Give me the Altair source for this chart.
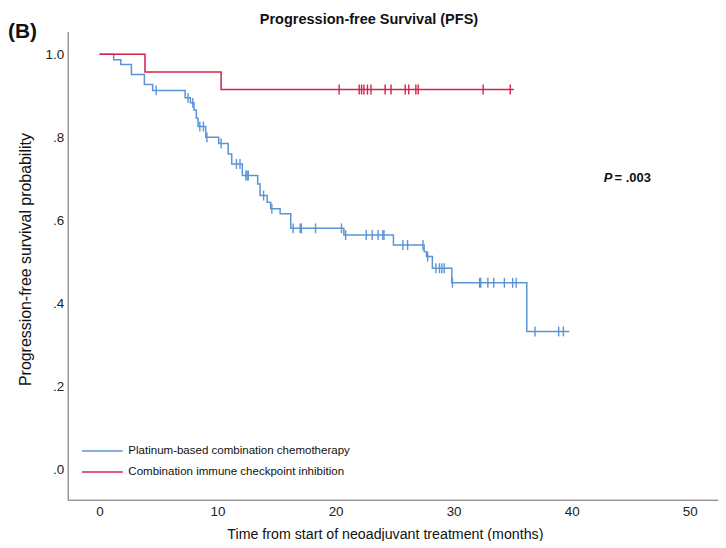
import altair as alt
import pandas as pd
import numpy as np

# ---- data ----
groups = ["Platinum-based combination chemotherapy", "Combination immune checkpoint inhibition"]
colors = ["#5b94d6", "#d3214b"]

blue_times = [0, 1.2, 1.8, 2.7, 3.8, 4.5, 7.25, 7.7, 8.0, 8.2, 8.35, 9.0, 10.1, 10.9, 11.2, 12.1,
              13.4, 13.6, 14.2, 14.5, 15.3, 16.2, 20.7, 24.9, 27.5, 27.7, 28.2, 29.85, 36.2, 39.8]
blue_surv = [1.0, 0.987, 0.975, 0.951, 0.927, 0.913, 0.895, 0.883, 0.866, 0.846, 0.826, 0.800, 0.785,
             0.760, 0.736, 0.708, 0.688, 0.660, 0.644, 0.628, 0.616, 0.581, 0.565, 0.541, 0.525, 0.513,
             0.485, 0.450, 0.333, 0.333]
blue_censor = [4.8, 7.5, 7.9, 8.5, 8.8, 9.1, 10.3, 11.6, 11.9, 12.4, 12.5, 12.6, 13.9, 14.6, 16.4,
               17.0, 17.1, 18.3, 20.5, 20.85, 22.6, 23.1, 23.6, 24.0, 24.1, 25.7, 26.1, 27.4, 27.8,
               28.5, 28.8, 29.0, 29.2, 29.9, 32.2, 32.3, 32.9, 33.4, 34.3, 35.0, 35.3, 36.9, 38.9, 39.3]

red_times = [0, 3.85, 10.3, 35.1]
red_surv = [1.0, 0.957, 0.915, 0.915]
red_censor = [20.3, 22.0, 22.2, 22.4, 22.7, 23.0, 24.2, 24.7, 25.9, 26.2, 26.8, 27.0, 32.5, 34.8]

x_ticks = [0, 10, 20, 30, 40, 50]
y_ticks = [0.0, 0.2, 0.4, 0.6, 0.8, 1.0]


def step_value(times, surv, t):
    i = np.searchsorted(np.array(times), t, side="right") - 1
    return surv[max(i, 0)]


lines = pd.concat([
    pd.DataFrame({"time": blue_times, "surv": blue_surv, "group": groups[0]}),
    pd.DataFrame({"time": red_times, "surv": red_surv, "group": groups[1]}),
], ignore_index=True)

cens = pd.concat([
    pd.DataFrame({"time": blue_censor,
                  "surv": [step_value(blue_times, blue_surv, t) for t in blue_censor],
                  "group": groups[0]}),
    pd.DataFrame({"time": red_censor,
                  "surv": [step_value(red_times, red_surv, t) for t in red_censor],
                  "group": groups[1]}),
], ignore_index=True)

FONT = "Liberation Sans"

xscale = alt.Scale(domain=[-2.7, 52.4], nice=False, zero=False)
yscale = alt.Scale(domain=[-0.072, 1.055], nice=False, zero=False)

xenc = alt.X("time:Q", scale=xscale,
             axis=alt.Axis(values=x_ticks, title="Time from start of neoadjuvant treatment (months)",
                           grid=False, ticks=False, labelPadding=5, titlePadding=9, titleX=319,
                           domainColor="#666666", labelFontSize=13.5, titleFontSize=14.3,
                           labelColor="#222222", titleColor="#111111", titleFontWeight="normal"))
yenc = alt.Y("surv:Q", scale=yscale,
             axis=alt.Axis(values=y_ticks, title="Progression-free survival probability",
                           grid=False, ticks=False, labelPadding=4, titlePadding=12, titleY=229,
                           labelExpr="replace(format(datum.value, '.1f'), '0.', '.')",
                           domainColor="#666666", labelFontSize=13.5, titleFontSize=16,
                           labelColor="#222222", titleColor="#111111", titleFontWeight="normal"))

line_layer = alt.Chart(lines).mark_line(interpolate="step-after", strokeWidth=1.5).encode(
    x=xenc, y=yenc,
    color=alt.Color("group:N", scale=alt.Scale(domain=groups, range=colors),
                    legend=alt.Legend(orient="none", legendX=29, legendY=416, title=None,
                                      symbolType="M-4,0L4,0", symbolSize=105, symbolStrokeWidth=1.5,
                                      symbolFillColor="transparent",
                                      labelFontSize=11.6, labelFont=FONT, labelColor="#111111",
                                      rowPadding=9, labelOffset=20, labelLimit=400)),
    detail="group:N",
)

cens_layer = alt.Chart(cens).mark_point(shape="M0,-1L0,1", size=100, filled=False, strokeWidth=1.4,
                                        opacity=1).encode(
    x="time:Q", y="surv:Q",
    stroke=alt.Stroke("group:N", scale=alt.Scale(domain=groups, range=colors), legend=None),
)

label_b = alt.Chart(pd.DataFrame({"t": ["(B)"]})).mark_text(
    fontSize=21, fontWeight="bold", font=FONT, align="left", baseline="middle", color="#111111"
).encode(text="t:N", x=alt.value(-60), y=alt.value(1))

p_italic = alt.Chart(pd.DataFrame({"t": ["P"]})).mark_text(
    fontSize=13, fontWeight="bold", fontStyle="italic", font=FONT, align="left", baseline="middle",
    color="#111111"
).encode(text="t:N", x=alt.value(539), y=alt.value(147))

p_value = alt.Chart(pd.DataFrame({"t": ["= .003"]})).mark_text(
    fontSize=13, fontWeight="bold", font=FONT, align="left", baseline="middle", color="#111111"
).encode(text="t:N", x=alt.value(550), y=alt.value(147))

chart = alt.layer(line_layer, cens_layer, label_b, p_italic, p_value).properties(
    width=654, height=471,
    title=alt.TitleParams("Progression-free Survival (PFS)", fontSize=14.6, fontWeight="bold",
                          font=FONT, anchor="middle", dx=-24, dy=13, offset=8, color="#111111"),
    padding={"left": 60, "top": 22, "right": 0, "bottom": 40},
    autosize="none",
).configure(font=FONT).configure_view(stroke=None)

chart.save("out.html", embed_options={"renderer": "svg", "actions": False})
